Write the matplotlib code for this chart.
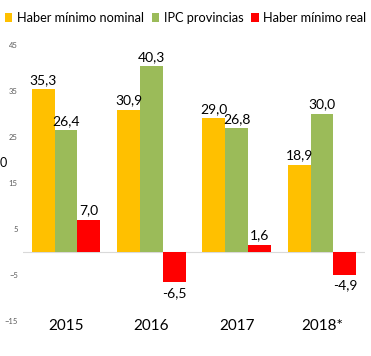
import numpy as np
import matplotlib.pyplot as plt

plt.rcParams['font.family'] = ['Lato', 'DejaVu Sans']

years = ['2015', '2016', '2017', '2018*']
nominal = [35.3, 30.9, 29.0, 18.9]
ipc = [26.4, 40.3, 26.8, 30.0]
real = [7.0, -6.5, 1.6, -4.9]
series = ['Haber mínimo nominal', 'IPC provincias', 'Haber mínimo real']
colors = ['#FFC000', '#9BBB59', '#FF0000']
yticks = [45, 35, 25, 15, 5, -5, -15]

W, H = 371, 356
fig = plt.figure(figsize=(W / 100, H / 100), dpi=100)
ax = fig.add_axes([23.4 / W, 1 - 321.1 / H, 341.3 / W, (321.1 - 44.6) / H])

x = np.arange(len(years))
w = 0.268
for i, (vals, col, name) in enumerate(zip([nominal, ipc, real], colors, series)):
    bars = ax.bar(x + (i - 1) * w, vals, w, color=col, label=name)
    for b, v in zip(bars, vals):
        lbl = f'{v:.1f}'.replace('.', ',')
        cx = b.get_x() + b.get_width() / 2
        if v >= 0:
            ax.annotate(lbl, (cx, v), xytext=(0, 2.5), textcoords='offset points',
                        ha='center', va='bottom', fontsize=10)
        else:
            ax.annotate(lbl, (cx, v), xytext=(0, -3.5), textcoords='offset points',
                        ha='center', va='top', fontsize=10)

ax.axhline(0, color='#D9D9D9', lw=0.8, zorder=0)
ax.set_xlim(-0.5, len(years) - 0.5)
ax.set_ylim(-15, 45)
ax.set_yticks(yticks)
ax.tick_params(axis='y', length=0, labelsize=5.5, labelcolor='#595959', pad=4)
ax.set_xticks([])
for xi, yr in zip(x, years):
    ax.text(xi, -16, yr, ha='center', va='center', fontsize=11, clip_on=False)
for s in ax.spines.values():
    s.set_visible(False)

fig.legend(loc='center', bbox_to_anchor=(0.5, 1 - 18 / H), ncol=3, frameon=False,
           fontsize=9.2, handlelength=0.6, handleheight=0.6, handletextpad=0.35,
           columnspacing=0.6, borderaxespad=0)
fig.text(0, 1 - 163 / H, '0', fontsize=9, va='center', ha='left')

fig.savefig('out.png', dpi=100)
